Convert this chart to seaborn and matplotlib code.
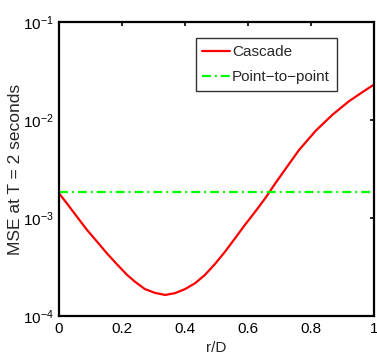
import matplotlib
matplotlib.use("Agg")
import matplotlib.pyplot as plt
import seaborn as sns
import pandas as pd

# Normalised distance r/D and the mean squared error of the cascade scheme
r_over_d = [0.0, 0.025, 0.057, 0.089, 0.121, 0.152, 0.184, 0.216, 0.241,
            0.273, 0.305, 0.337, 0.368, 0.4, 0.432, 0.463, 0.495, 0.527,
            0.559, 0.59, 0.622, 0.654, 0.686, 0.717, 0.762, 0.815, 0.868,
            0.92, 0.971, 1.0]
mse_cascade = [1.79e-3, 1.41e-3, 1.03e-3, 7.55e-4, 5.73e-4, 4.36e-4, 3.37e-4,
               2.63e-4, 2.24e-4, 1.88e-4, 1.72e-4, 1.64e-4, 1.71e-4, 1.88e-4,
               2.16e-4, 2.62e-4, 3.39e-4, 4.53e-4, 6.21e-4, 8.49e-4, 1.15e-3,
               1.58e-3, 2.24e-3, 3.10e-3, 4.94e-3, 7.77e-3, 1.13e-2, 1.55e-2,
               2.00e-2, 2.30e-2]
# Point-to-point scheme: constant error over r/D
mse_p2p = 1.84e-3

x_ticks = [0, 0.2, 0.4, 0.6, 0.8, 1]
x_tick_labels = ["0", "0.2", "0.4", "0.6", "0.8", "1"]
y_ticks = [1e-4, 1e-3, 1e-2, 1e-1]

sns.set_theme(style="white")
plt.rcParams["font.family"] = ["Liberation Sans", "DejaVu Sans"]
plt.rcParams["mathtext.fontset"] = "custom"
plt.rcParams["mathtext.rm"] = "Liberation Sans"
plt.rcParams["mathtext.it"] = "Liberation Sans:italic"

fig = plt.figure(figsize=(3.77, 3.57), dpi=100)
ax = fig.add_axes([59 / 377, 1 - 316 / 357, (374 - 59) / 377, (316 - 22) / 357])

df = pd.DataFrame({"r/D": r_over_d, "MSE": mse_cascade})
sns.lineplot(data=df, x="r/D", y="MSE", ax=ax, color="#ff0000", linewidth=1.6,
             label="Cascade")
ax.axhline(mse_p2p, color="#00ff00", linewidth=1.6, linestyle=(0, (4, 1.8, 0.9, 1.8)),
           label="Point\u2212to\u2212point")

ax.set_yscale("log")
ax.set_xlim(0, 1)
ax.set_ylim(1e-4, 1e-1)
ax.set_xticks(x_ticks)
ax.set_xticklabels(x_tick_labels)
ax.set_yticks(y_ticks)
ax.minorticks_off()
ax.tick_params(axis="both", which="major", direction="in", length=3, width=1.2,
               top=True, right=True, labelsize=11, colors="black", pad=4)
for s in ax.spines.values():
    s.set_visible(True)
    s.set_color("black")
    s.set_linewidth(1.6)

ax.set_xlabel("r/D", fontsize=11, labelpad=4)
ax.set_ylabel("MSE at T = 2 seconds", fontsize=12.5, labelpad=0)

leg = ax.legend(loc="upper right", bbox_to_anchor=(0.8825, 0.9456), fontsize=11,
                frameon=True, fancybox=False, handlelength=1.8, handletextpad=0.15,
                borderpad=0.45, labelspacing=0.75, borderaxespad=0)
leg.get_frame().set_edgecolor("black")
leg.get_frame().set_linewidth(1.0)

fig.savefig("out.png", dpi=100)
